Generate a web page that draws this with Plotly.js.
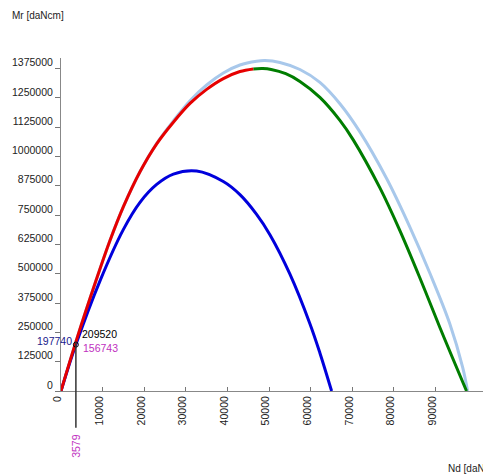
<!DOCTYPE html>
<html>
<head>
<meta charset="utf-8">
<script src="https://cdn.plot.ly/plotly-3.0.1.min.js"></script>
<style>html,body{margin:0;padding:0;background:#fff;}#chart{width:483px;height:476px;}</style>
</head>
<body>
<div id="chart"></div>
<script>
// Light blue envelope
const lbN = [0, 3579, 8575, 11770, 14970, 18980, 22990, 27000, 31000, 35000, 39000, 43000, 47000, 49000, 52600, 57410, 62210, 67020, 71820, 78240, 83830, 88640, 93440, 96500, 97700];
const lbM = [0, 209520, 479300, 641500, 785000, 935000, 1056000, 1152000, 1238000, 1305000, 1356000, 1390000, 1406000, 1409000, 1401000, 1371000, 1316000, 1225000, 1105000, 906000, 699000, 502000, 286000, 102000, 0];
// Red (ascending branch)
const redN = [0, 3579, 8575, 11770, 14970, 18980, 22990, 27000, 31000, 35000, 39000, 43000, 46200];
const redM = [0, 209520, 479300, 641500, 785000, 935000, 1054100, 1146300, 1226300, 1286300, 1332300, 1362300, 1373500];
// Green (descending branch)
const greenN = [46200, 48500, 50500, 54000, 57410, 62210, 67020, 70220, 76630, 81430, 86240, 91040, 97450];
const greenM = [1373500, 1375000, 1371000, 1353000, 1320000, 1252000, 1154000, 1071000, 866000, 684000, 482000, 271000, 0];
// Blue curve
const blueN = [0, 3579, 9370, 14970, 18980, 22990, 27000, 32600, 39000, 43000, 47000, 50200, 55010, 59810, 62210, 65020];
const blueM = [0, 197740, 469900, 688300, 804600, 880800, 924900, 938000, 893200, 837200, 753200, 666800, 498400, 287200, 162400, 0];
// Marked design point
const ndDesign = 3579;
const mrRed = 209520;
const mrBlue = 197740;
const mrDesign = 156743;
// Axis ticks
const xTicks = [0, 10000, 20000, 30000, 40000, 50000, 60000, 70000, 80000, 90000];
const yTicks = [0, 125000, 250000, 375000, 500000, 625000, 750000, 875000, 1000000, 1125000, 1250000, 1375000];

const FONT = 'Liberation Sans, Arial, sans-serif';
const line = (x, y, color, w) => ({x, y, type: 'scatter', mode: 'lines', line: {color, width: w, shape: 'spline', smoothing: 1}, hoverinfo: 'skip', showlegend: false});

const traces = [
  line(lbN, lbM, 'rgb(168,200,235)', 3),
  line(blueN, blueM, 'rgb(0,0,220)', 3),
  line(greenN, greenM, 'rgb(0,125,0)', 3),
  line(redN, redM, 'rgb(230,0,0)', 3),
  {x: [ndDesign], y: [mrBlue], type: 'scatter', mode: 'markers', cliponaxis: false,
   marker: {symbol: 'circle-open', size: 5, color: '#000', line: {width: 1, color: '#000'}}, showlegend: false, hoverinfo: 'skip'}
];

const layout = {
  width: 483, height: 476,
  margin: {l: 61, r: 0, t: 58, b: 85},
  paper_bgcolor: '#fff', plot_bgcolor: '#fff',
  showlegend: false,
  font: {family: FONT, size: 10.5, color: '#222'},
  xaxis: {
    range: [0, 101400], tickvals: xTicks, tickformat: 'd', tickangle: -90,
    ticks: 'inside', ticklen: 4, tickcolor: '#777', showline: true, linecolor: '#888', linewidth: 1,
    showgrid: false, zeroline: false, ticklabelshift: -3, tickfont: {family: FONT, size: 10.5, color: '#222'}
  },
  yaxis: {
    range: [0, 1420000], tickvals: yTicks, tickformat: 'd',
    ticks: 'outside', ticklen: 5, tickcolor: '#777', showline: true, linecolor: '#888', linewidth: 1,
    showgrid: false, zeroline: false, ticklabelshift: -6, tickfont: {family: FONT, size: 10.5, color: '#222'}
  },
  shapes: [
    {type: 'line', xref: 'x', yref: 'y', x0: ndDesign, x1: ndDesign, y0: 0, y1: mrRed, line: {color: '#333', width: 1.5}},
    {type: 'line', xref: 'x', yref: 'paper', x0: ndDesign, x1: ndDesign, y0: 0, y1: -0.11, line: {color: '#333', width: 1.5}}
  ],
  annotations: [
    {xref: 'x', yref: 'y', x: ndDesign, y: mrRed, text: String(mrRed), showarrow: false, xanchor: 'left', yanchor: 'middle', xshift: 4, yshift: 8, font: {family: FONT, size: 10.5, color: '#000'}},
    {xref: 'x', yref: 'y', x: ndDesign, y: mrBlue, text: String(mrBlue), showarrow: false, xanchor: 'right', yanchor: 'middle', xshift: -2, yshift: 4, font: {family: FONT, size: 10.5, color: '#1a1a8c'}},
    {xref: 'x', yref: 'y', x: ndDesign, y: mrDesign, text: String(mrDesign), showarrow: false, xanchor: 'left', yanchor: 'middle', xshift: 5, yshift: 6, font: {family: FONT, size: 10.5, color: '#c030c0'}},
    {xref: 'x', yref: 'paper', x: ndDesign, y: -0.165, text: String(ndDesign), textangle: -90, showarrow: false, xanchor: 'center', yanchor: 'middle', font: {family: FONT, size: 10.5, color: '#c030c0'}},
    {xref: 'paper', yref: 'paper', x: -0.121, y: 1.129, text: 'Mr [daNcm]', showarrow: false, xanchor: 'left', yanchor: 'middle', font: {family: FONT, size: 10, color: '#222'}},
    {xref: 'paper', yref: 'paper', x: 0.912, y: -0.234, text: 'Nd [daN]', showarrow: false, xanchor: 'left', yanchor: 'middle', font: {family: FONT, size: 10, color: '#222'}}
  ]
};

Plotly.newPlot('chart', traces, layout, {displayModeBar: false, staticPlot: true});
</script>
</body>
</html>
